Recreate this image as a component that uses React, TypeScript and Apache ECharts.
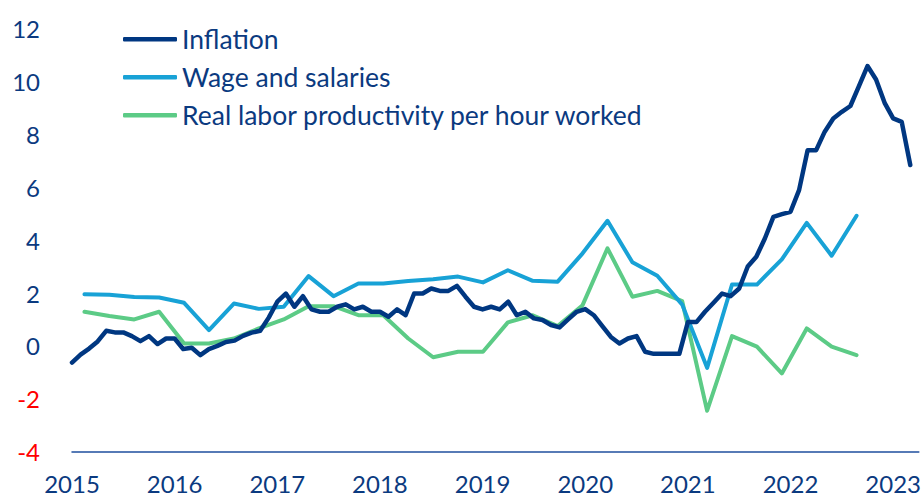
import React, { useEffect, useRef } from "react";
import * as echarts from "echarts";

// Monthly categories Jan 2015 – Apr 2023
const monthLabels: string[] = [];
for (let y = 2015; y <= 2023; y++) {
  for (let m = 1; m <= 12; m++) {
    if (y === 2023 && m > 4) break;
    monthLabels.push(`${y}-${m < 10 ? "0" + m : m}`);
  }
}
// Quarterly categories 2015Q1 – 2023Q2
const quarterLabels: string[] = [];
for (let y = 2015; y <= 2023; y++) {
  for (let q = 1; q <= 4; q++) {
    if (y === 2023 && q > 2) break;
    quarterLabels.push(`${y}Q${q}`);
  }
}

const inflation = [
  -0.63, -0.33, -0.1, 0.17, 0.57, 0.51, 0.51, 0.37, 0.18, 0.37, 0.07, 0.28,
  0.28, -0.12, -0.07, -0.35, -0.12, 0.0, 0.15, 0.2, 0.38, 0.5, 0.57, 1.07,
  1.67, 1.98, 1.48, 1.88, 1.38, 1.29, 1.29, 1.48, 1.57, 1.38, 1.48, 1.29,
  1.29, 1.1, 1.38, 1.16, 1.98, 1.98, 2.17, 2.08, 2.08, 2.27, 1.86, 1.48,
  1.38, 1.48, 1.38, 1.67, 1.16, 1.29, 1.04, 0.98, 0.79, 0.7, 1.0, 1.29,
  1.39, 1.16, 0.75, 0.34, 0.09, 0.28, 0.37, -0.22, -0.3, -0.3, -0.3, -0.3,
  0.9, 0.9, 1.29, 1.63, 1.98, 1.88, 2.17, 3.0, 3.37, 4.06, 4.88, 4.98,
  5.07, 5.89, 7.4, 7.4, 8.1, 8.6, 8.85, 9.07, 9.82, 10.58, 10.07, 9.19,
  8.6, 8.47, 6.84,
];

const wages = [
  1.95, 1.93, 1.85, 1.83, 1.63, 0.6, 1.6, 1.4, 1.48, 2.64, 1.88, 2.36,
  2.36, 2.45, 2.52, 2.62, 2.4, 2.86, 2.46, 2.43, 3.5, 4.73, 3.16, 2.65,
  1.56, -0.83, 2.32, 2.32, 3.27, 4.65, 3.41, 4.92,
];

const productivity = [
  1.29, 1.13, 1.0, 1.29, 0.09, 0.09, 0.28, 0.66, 1.0, 1.5, 1.5, 1.16,
  1.16, 0.28, -0.43, -0.22, -0.22, 0.89, 1.16, 0.75, 1.54, 3.69, 1.86, 2.08,
  1.69, -2.45, 0.37, -0.03, -1.04, 0.66, -0.03, -0.35,
];

const seriesNames = ["Inflation", "Wage and salaries", "Real labor productivity per hour worked"];
const colors = ["#003781", "#18a2d6", "#5ccb86"];
const yTicks = { min: -4, max: 12, interval: 2 };

const FONT = "Lato, 'Noto Sans', sans-serif";
const TEXT = "#0b3a80";

export default function App() {
  const ref = useRef<HTMLDivElement>(null);
  useEffect(() => {
    if (!ref.current) return;
    const chart = echarts.init(ref.current, undefined, { renderer: "svg" });
    chart.setOption({
      animation: false,
      backgroundColor: "#ffffff",
      textStyle: { fontFamily: FONT },
      grid: { left: 72, right: 5, top: 28.5, bottom: 48.3, containLabel: false },
      legend: {
        orient: "vertical",
        left: 123,
        top: 24.3,
        padding: 0,
        itemWidth: 54,
        itemHeight: 4.5,
        itemGap: 8,
        icon: "roundRect",
        data: seriesNames,
        textStyle: { fontFamily: FONT, fontSize: 26.5, color: TEXT, lineHeight: 30 },
      },
      xAxis: [
        {
          type: "category",
          data: monthLabels,
          boundaryGap: false,
          axisLine: { show: true, onZero: false, lineStyle: { color: "#1f4f9e", width: 1.5 } },
          axisTick: { show: false },
          splitLine: { show: false },
          axisLabel: {
            interval: (i: number) => i % 12 === 0,
            formatter: (v: string) => v.slice(0, 4),
            fontFamily: FONT,
            fontSize: 24,
            color: TEXT,
            margin: 20,
            hideOverlap: false,
          },
        },
        {
          type: "category",
          data: quarterLabels,
          boundaryGap: true,
          show: false,
          position: "bottom",
          axisLine: { onZero: false },
        },
      ],
      yAxis: {
        type: "value",
        min: yTicks.min,
        max: yTicks.max,
        interval: yTicks.interval,
        axisLine: { show: false },
        axisTick: { show: false },
        splitLine: { show: false },
        axisLabel: {
          margin: 32,
          fontFamily: FONT,
          fontSize: 24,
          formatter: (v: number) => (v < 0 ? `{neg|${v}}` : `{pos|${v}}`),
          rich: {
            neg: { color: "#ff0000", fontSize: 24, fontFamily: FONT },
            pos: { color: TEXT, fontSize: 24, fontFamily: FONT },
          },
        },
      },
      series: [
        {
          name: seriesNames[0],
          type: "line",
          xAxisIndex: 0,
          data: inflation,
          symbol: "none",
          color: colors[0],
          lineStyle: { width: 4.5, color: colors[0], join: "round", cap: "round" },
          z: 3,
        },
        {
          name: seriesNames[1],
          type: "line",
          xAxisIndex: 1,
          data: wages,
          symbol: "none",
          color: colors[1],
          lineStyle: { width: 4, color: colors[1], join: "round", cap: "round" },
          z: 2,
        },
        {
          name: seriesNames[2],
          type: "line",
          xAxisIndex: 1,
          data: productivity,
          symbol: "none",
          color: colors[2],
          lineStyle: { width: 4, color: colors[2], join: "round", cap: "round" },
          z: 1,
        },
      ],
    });
    return () => chart.dispose();
  }, []);
  return (
    <div
      ref={ref}
      style={{ position: "fixed", left: 0, top: 0, width: 924, height: 500 }}
    />
  );
}
